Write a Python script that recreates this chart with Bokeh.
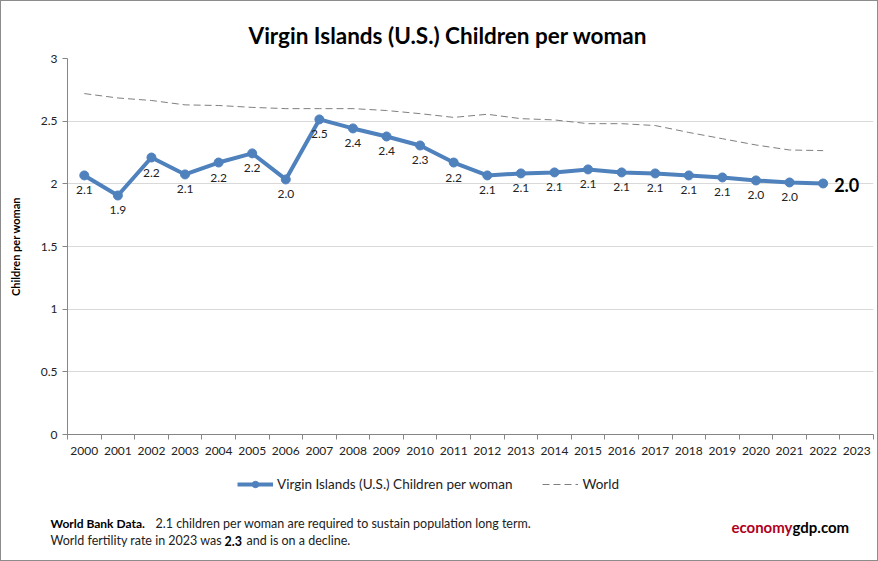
from bokeh.plotting import figure
from bokeh.layouts import column
from bokeh.models import FixedTicker, Legend, LegendItem, Range1d, Title
from bokeh.embed import file_html
from bokeh.resources import INLINE

# ---- data ----
years = [str(y) for y in range(2000, 2024)]
vi_years = list(range(0, 23))  # indices of 2000..2022
vi_values = [2.067, 1.907, 2.21, 2.075, 2.17, 2.243, 2.035, 2.514, 2.442, 2.378, 2.306, 2.17,
             2.067, 2.083, 2.091, 2.115, 2.091, 2.083, 2.067, 2.051, 2.027, 2.011, 2.003]
world_values = [2.72, 2.685, 2.665, 2.63, 2.625, 2.61, 2.60, 2.60, 2.60, 2.585, 2.56, 2.53,
                2.555, 2.52, 2.51, 2.48, 2.48, 2.465, 2.41, 2.36, 2.31, 2.27, 2.265]
y_ticks = [0, 0.5, 1, 1.5, 2, 2.5, 3]
y_tick_labels = ["0", "0.5", "1", "1.5", "2", "2.5", "3"]
title_text = "Virgin Islands (U.S.) Children per woman"
series_name = "Virgin Islands (U.S.) Children per woman"
world_name = "World"

FONT = "Lato"
BLUE = "#4f81bd"
GREY = "#868686"
W = 876
H1, H2 = 461, 98
ML, MR, MT, MB = 66, 4, 57, 28

p = figure(width=W, height=H1, output_backend="svg", toolbar_location=None,
           x_range=Range1d(-0.5, len(years) - 0.5), y_range=Range1d(0, 3),
           min_border_left=ML, min_border_right=MR, min_border_top=MT, min_border_bottom=MB)
p.outline_line_color = None
p.border_fill_color = "white"

t = Title(text=title_text, align="left", text_font=FONT, text_font_size="22.5px",
          text_font_style="bold", text_color="#000000", standoff=20, offset=181)
p.add_layout(t, "above")

# x axis
p.xaxis.ticker = FixedTicker(ticks=list(range(len(years))),
                             minor_ticks=[i - 0.5 for i in range(len(years) + 1)])
p.xaxis.major_label_overrides = {i: years[i] for i in range(len(years))}
p.xaxis.major_tick_line_color = None
p.xaxis.major_tick_out = 0
p.xaxis.major_tick_in = 0
p.xaxis.minor_tick_out = 5
p.xaxis.minor_tick_in = 0
p.xaxis.minor_tick_line_color = GREY
p.xaxis.axis_line_color = GREY
p.xaxis.major_label_standoff = 7
p.xaxis.major_label_text_font = FONT
p.xaxis.major_label_text_font_size = "12px"
p.xaxis.major_label_text_color = "#222222"

# y axis
p.yaxis.ticker = FixedTicker(ticks=y_ticks, minor_ticks=[])
p.yaxis.major_label_overrides = {t_: l for t_, l in zip(y_ticks, y_tick_labels)}
p.yaxis.major_tick_out = 5
p.yaxis.major_tick_in = 0
p.yaxis.major_tick_line_color = GREY
p.yaxis.minor_tick_line_color = None
p.yaxis.axis_line_color = GREY
p.yaxis.major_label_standoff = 5
p.yaxis.major_label_text_font = FONT
p.yaxis.major_label_text_font_size = "12px"
p.yaxis.major_label_text_color = "#222222"
p.yaxis.axis_label = "Children per woman"
p.yaxis.axis_label_text_font = FONT
p.yaxis.axis_label_text_font_size = "11px"
p.yaxis.axis_label_text_font_style = "bold"
p.yaxis.axis_label_text_color = "#000000"
p.yaxis.axis_label_standoff = 16

p.xgrid.visible = False
p.ygrid.ticker = FixedTicker(ticks=y_ticks)
p.ygrid.grid_line_color = "#d9d9d9"

# series
world_line = p.line(vi_years, world_values, line_color="#7f7f7f", line_width=1, line_dash="7 4")
vi_line = p.line(vi_years, vi_values, line_color=BLUE, line_width=4)
vi_pts = p.scatter(vi_years, vi_values, size=9, fill_color=BLUE, line_color=BLUE)

vi_labels = [f"{v:.1f}" for v in vi_values]
p.text(x=vi_years[:-1], y=vi_values[:-1], text=vi_labels[:-1], text_align="center",
       text_baseline="middle", y_offset=15, text_font_size="12px", text_color="#222222",
       text_font={"value": FONT})
p.text(x=vi_years[-1:], y=vi_values[-1:], text=vi_labels[-1:], text_align="left",
       text_baseline="middle", x_offset=11, y_offset=2, text_font_size="18px",
       text_font_style="bold", text_color="#000000", text_font={"value": FONT})

# ---- footer (legend + notes) ----
f = figure(width=W, height=H2, output_backend="svg", toolbar_location=None,
           x_range=Range1d(0, W), y_range=Range1d(H2, 0),
           x_axis_location=None, y_axis_location=None,
           min_border=0, min_border_left=0, min_border_right=0,
           min_border_top=0, min_border_bottom=0)
f.grid.visible = False
f.outline_line_color = None
f.border_fill_color = "white"
for fig in (p, f):
    if "frame_align" in fig.properties():
        fig.frame_align = False

# legend swatches (single point placed outside the visible footer area)
lg_vi_line = f.line(x=[-50], y=[-50], line_color=BLUE, line_width=4)
lg_vi_pts = f.scatter(x=[-50], y=[-50], size=9, fill_color=BLUE, line_color=BLUE)
lg_world = f.line(x=[-50], y=[-50], line_color="#7f7f7f", line_width=1, line_dash="7 4")

legend = Legend(items=[LegendItem(label=series_name, renderers=[lg_vi_line, lg_vi_pts]),
                       LegendItem(label=world_name, renderers=[lg_world])],
                orientation="horizontal", location=(236, 68), border_line_color=None,
                background_fill_alpha=0, padding=0, spacing=30, glyph_width=36,
                glyph_height=16, label_text_font_size="13.5px", label_text_font=FONT,
                label_standoff=4, margin=0, label_text_color="#222222")
f.add_layout(legend, "center")

note_x = [49, 154, 49, 223, 245]
note_y = [61, 61, 78, 78, 78]
note_text = ["World Bank Data.",
             "2.1 children per woman are required to sustain population long term.",
             "World fertility rate in 2023 was", "2.3", "and is on a decline."]
note_style = ["bold", "normal", "normal", "bold", "normal"]
note_size = ["12px", "12.5px", "12.5px", "12.5px", "12.5px"]
note_color = ["#000000", "#222222", "#222222", "#000000", "#222222"]
f.text(x=note_x, y=note_y, text=note_text, text_font_style=note_style,
       text_font_size=note_size, text_color=note_color, text_baseline="middle",
       text_align="left", text_font={"value": FONT})

brand_text = ["economy", "gdp.com"]
brand_color = ["#b0001e", "#000000"]
brand_align = ["right", "left"]
f.text(x=[791, 791], y=[64, 64], text=brand_text, text_color=brand_color,
       text_align=brand_align, text_baseline="middle", text_font_size="15px",
       text_font_style="bold", text_font={"value": FONT})

layout = column(p, f, spacing=0, styles={"border": "1px solid #8c8c8c"})
open("out.html", "w").write(file_html(layout, INLINE))
